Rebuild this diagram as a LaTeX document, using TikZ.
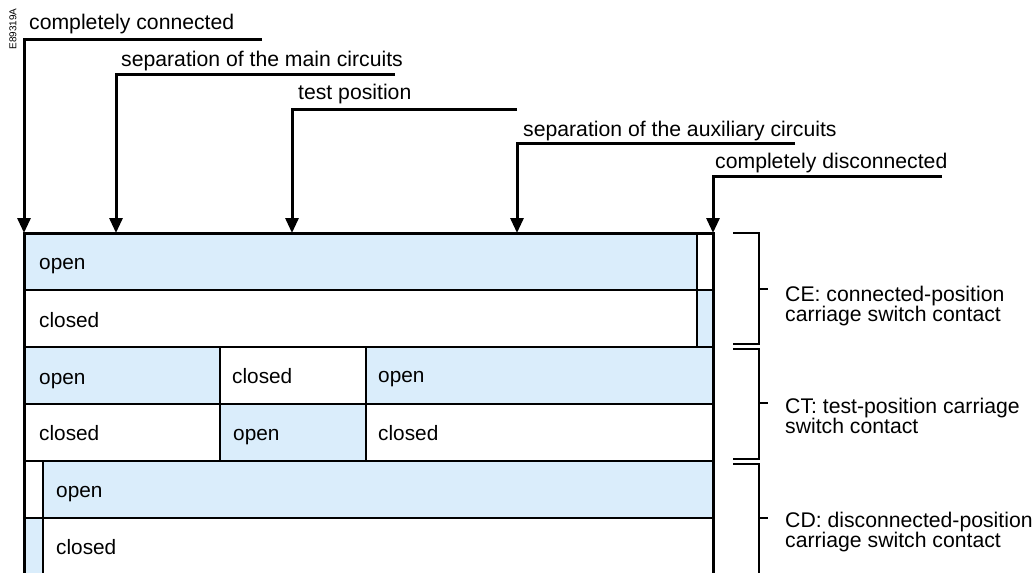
\documentclass[tikz,border=0pt]{standalone}
\usepackage{fontspec}
\setmainfont{Liberation Sans}
\usetikzlibrary{arrows.meta}
\definecolor{cblue}{HTML}{DAEDFB}
\tikzset{
  lbl/.style={anchor=base west, inner sep=0pt, font=\fontsize{21.2}{21}\selectfont},
  cell/.style={anchor=base west, inner sep=0pt, font=\fontsize{20.8}{21}\selectfont},
  side/.style={anchor=base west, inner sep=0pt, align=left, font=\fontsize{21.2}{20}\selectfont},
  pointer/.style={line width=3pt, -{Triangle[length=15pt,width=13pt]}},
  grid/.style={line width=2.6pt},
  brace/.style={line width=2.5pt},
}
\begin{document}
\begin{tikzpicture}[x=1pt,y=-1pt]
\useasboundingbox (0,0) rectangle (1034,573);
\clip (0,0) rectangle (1034,573);
% reference code
\node[rotate=90, anchor=center, inner sep=0pt, font=\fontsize{10}{10}\selectfont] (code) at (13,29) {E89319A};
% fills
\fill[cblue] (24,233) rectangle (697,290);
\fill[cblue] (697,290) rectangle (713,347);
\fill[cblue] (24,347) rectangle (220,404);
\fill[cblue] (366,347) rectangle (713,404);
\fill[cblue] (220,404) rectangle (366,461);
\fill[cblue] (43,461) rectangle (713,518);
\fill[cblue] (24,518) rectangle (43,580);
% grid
\foreach \y in {290,347,404,461,518}{\draw[grid] (24,\y) -- (713,\y);}
\draw[grid] (697,233) -- (697,347);
\draw[grid] (220,347) -- (220,461);
\draw[grid] (366,347) -- (366,461);
\draw[grid] (43,461) -- (43,580);
\draw[line width=3pt] (24,580) -- (24,233) -- (713,233) -- (713,580);
% cell texts
\node[cell] (r1) at (39,269) {open};
\node[cell] (r2) at (39,327) {closed};
\node[cell] (r3a) at (39,384) {open};
\node[cell] (r3b) at (232,383) {closed};
\node[cell] (r3c) at (378,382) {open};
\node[cell] (r4a) at (39,440) {closed};
\node[cell] (r4b) at (233,440) {open};
\node[cell] (r4c) at (378,440) {closed};
\node[cell] (r5) at (56,497) {open};
\node[cell] (r6) at (56,554) {closed};
% pointer labels
\node[lbl] (l1) at (29,29) {completely connected};
\node[lbl] (l2) at (121,66) {separation of the main circuits};
\node[lbl] (l3) at (298,99) {test position};
\node[lbl] (l4) at (523,136) {separation of the auxiliary circuits};
\node[lbl] (l5) at (715,168) {completely disconnected};
% pointer coordinates
\coordinate (e1) at (262,39);  \coordinate (c1) at (24,39);  \coordinate (t1) at (24,233);
\coordinate (e2) at (395,74);  \coordinate (c2) at (116,74); \coordinate (t2) at (116,233);
\coordinate (e3) at (517,109); \coordinate (c3) at (292,109);\coordinate (t3) at (292,233);
\coordinate (e4) at (795,143); \coordinate (c4) at (517,143);\coordinate (t4) at (517,233);
\coordinate (e5) at (942,176); \coordinate (c5) at (713,176);\coordinate (t5) at (713,233);
\foreach \i in {1,...,5}{\draw[pointer] (e\i) -- (c\i) -- (t\i);}
% brackets
\draw[brace] (733,233) -- (759,233) -- (759,344) -- (733,344);
\draw[brace] (759,289) -- (768,289);
\draw[brace] (733,349) -- (759,349) -- (759,459) -- (733,459);
\draw[brace] (759,403) -- (768,403);
\draw[brace] (733,464) -- (759,464) -- (759,580);
\draw[brace] (759,518) -- (768,518);
\node[side] (ce) at (785,321) {CE: connected-position\\carriage switch contact};
\node[side] (ct) at (785,433) {CT: test-position carriage\\switch contact};
\node[side] (cd) at (785,547) {CD: disconnected-position\\carriage switch contact};
\end{tikzpicture}
\end{document}
